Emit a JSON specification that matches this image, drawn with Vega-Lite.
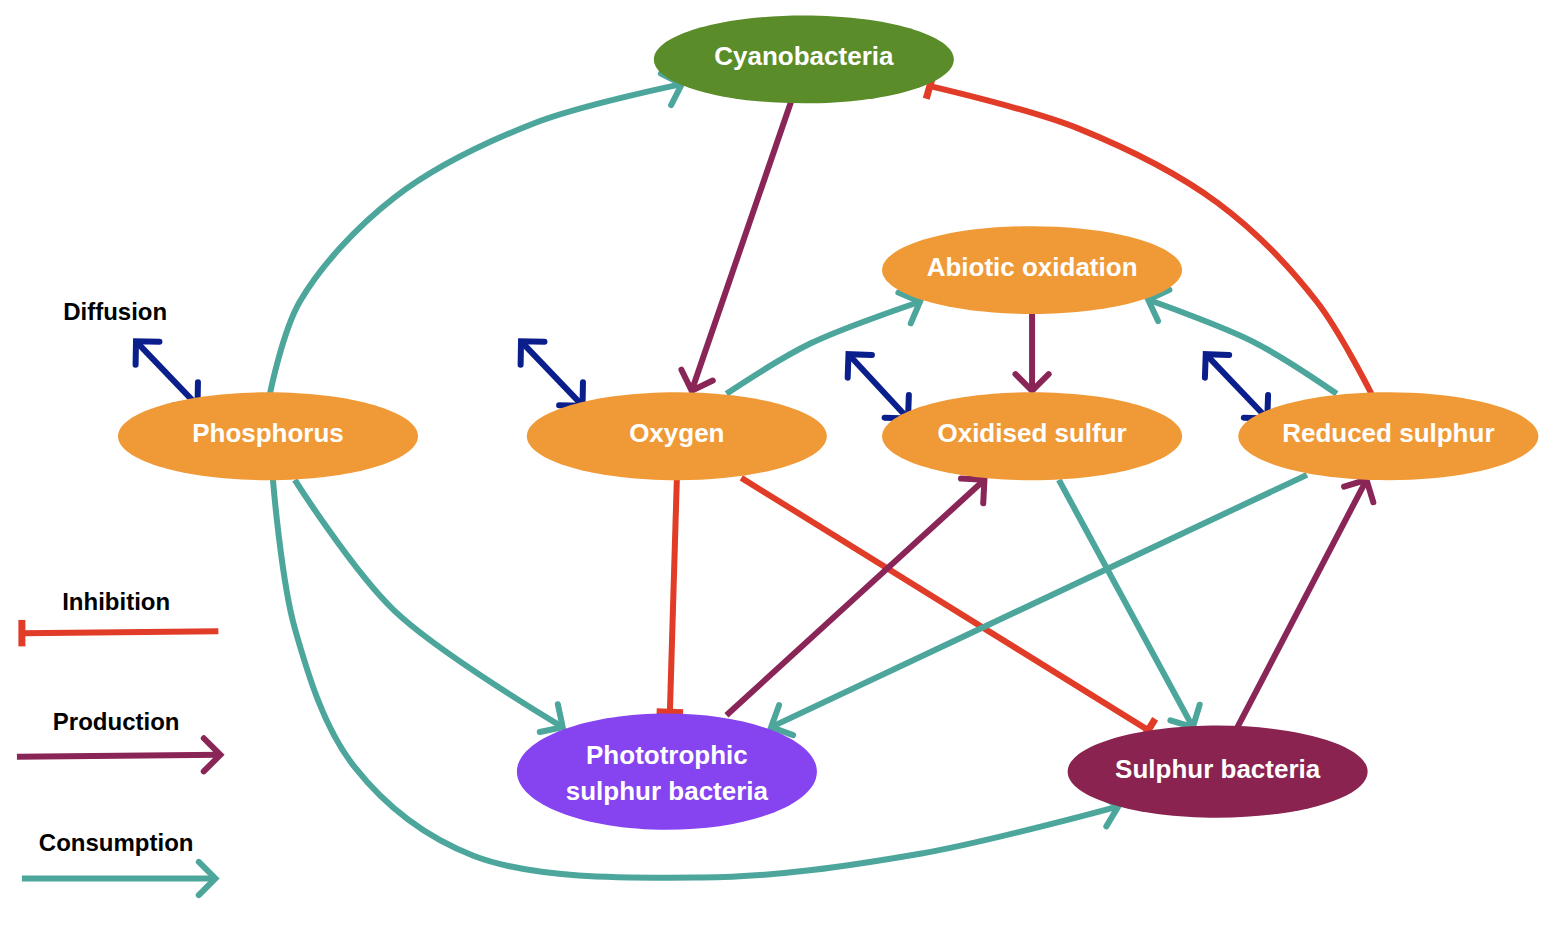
{
"$schema":"https://vega.github.io/schema/vega-lite/v6.json",
"width":1564,"height":928,"autosize":{"type":"fit","contains":"padding"},
"config":{"view":{"stroke":null},"font":"Liberation Sans"},
"datasets":{
"nodes":[
{"label":"Cyanobacteria","x":803,"y":55,"g":"a","color":"#5b8c2a"},
{"label":"Abiotic oxidation","x":1033,"y":268,"g":"a","color":"#f09a37"},
{"label":"Phosphorus","x":263,"y":436,"g":"a","color":"#f09a37"},
{"label":"Oxygen","x":675,"y":436,"g":"a","color":"#f09a37"},
{"label":"Oxidised sulfur","x":1033,"y":436,"g":"a","color":"#f09a37"},
{"label":"Reduced sulphur","x":1392,"y":436,"g":"a","color":"#f09a37"},
{"label":"Phototrophic\nsulphur bacteria","x":665,"y":775,"g":"b","color":"#8644f0"},
{"label":"Sulphur bacteria","x":1220,"y":775,"g":"c","color":"#8a2350"}],
"edges":[
{"e":1,"k":"Consumption","o":1,"x":265,"y":393},{"e":1,"k":"Consumption","o":2,"x":295,"y":300},{"e":1,"k":"Consumption","o":3,"x":390,"y":195},{"e":1,"k":"Consumption","o":4,"x":530,"y":120},{"e":1,"k":"Consumption","o":5,"x":680,"y":80},
{"e":2,"k":"Production","o":1,"x":790,"y":98},{"e":2,"k":"Production","o":2,"x":690,"y":390},
{"e":3,"k":"Inhibition","o":1,"x":1375,"y":393},{"e":3,"k":"Inhibition","o":2,"x":1320,"y":300},{"e":3,"k":"Inhibition","o":3,"x":1220,"y":200},{"e":3,"k":"Inhibition","o":4,"x":1080,"y":125},{"e":3,"k":"Inhibition","o":5,"x":930,"y":82},
{"e":4,"k":"Consumption","o":1,"x":725,"y":393},{"e":4,"k":"Consumption","o":2,"x":810,"y":342},{"e":4,"k":"Consumption","o":3,"x":920,"y":300},
{"e":5,"k":"Consumption","o":1,"x":1340,"y":393},{"e":5,"k":"Consumption","o":2,"x":1255,"y":340},{"e":5,"k":"Consumption","o":3,"x":1150,"y":298},
{"e":6,"k":"Production","o":1,"x":1033,"y":312},{"e":6,"k":"Production","o":2,"x":1033,"y":390},
{"e":7,"k":"Consumption","o":1,"x":290,"y":480},{"e":7,"k":"Consumption","o":2,"x":390,"y":612},{"e":7,"k":"Consumption","o":3,"x":560,"y":730},
{"e":8,"k":"Consumption","o":1,"x":268,"y":480},{"e":8,"k":"Consumption","o":2,"x":290,"y":630},{"e":8,"k":"Consumption","o":3,"x":350,"y":770},{"e":8,"k":"Consumption","o":4,"x":470,"y":860},{"e":8,"k":"Consumption","o":5,"x":700,"y":882},{"e":8,"k":"Consumption","o":6,"x":920,"y":858},{"e":8,"k":"Consumption","o":7,"x":1120,"y":810},
{"e":9,"k":"Inhibition","o":1,"x":675,"y":480},{"e":9,"k":"Inhibition","o":2,"x":668,"y":715},
{"e":10,"k":"Inhibition","o":1,"x":740,"y":478},{"e":10,"k":"Inhibition","o":2,"x":1150,"y":733},
{"e":11,"k":"Production","o":1,"x":725,"y":718},{"e":11,"k":"Production","o":2,"x":985,"y":480},
{"e":12,"k":"Consumption","o":1,"x":1310,"y":475},{"e":12,"k":"Consumption","o":2,"x":770,"y":730},
{"e":13,"k":"Consumption","o":1,"x":1060,"y":480},{"e":13,"k":"Consumption","o":2,"x":1195,"y":730},
{"e":14,"k":"Production","o":1,"x":1240,"y":730},{"e":14,"k":"Production","o":2,"x":1370,"y":480},
{"e":15,"k":"Diffusion","o":1,"x":130,"y":340},{"e":15,"k":"Diffusion","o":2,"x":192,"y":405},
{"e":16,"k":"Diffusion","o":1,"x":518,"y":340},{"e":16,"k":"Diffusion","o":2,"x":580,"y":405},
{"e":17,"k":"Diffusion","o":1,"x":848,"y":353},{"e":17,"k":"Diffusion","o":2,"x":908,"y":418},
{"e":18,"k":"Diffusion","o":1,"x":1208,"y":353},{"e":18,"k":"Diffusion","o":2,"x":1270,"y":418},
{"e":19,"k":"Inhibition","o":1,"x":213,"y":633},{"e":19,"k":"Inhibition","o":2,"x":15,"y":635},
{"e":20,"k":"Production","o":1,"x":10,"y":760},{"e":20,"k":"Production","o":2,"x":215,"y":758},
{"e":21,"k":"Consumption","o":1,"x":15,"y":883},{"e":21,"k":"Consumption","o":2,"x":210,"y":883}],
"heads":[
{"k":"Consumption","x":680,"y":80,"a":-18},{"k":"Production","x":690,"y":390,"a":109},
{"k":"Inhibition","x":930,"y":82,"a":196},{"k":"Consumption","x":920,"y":300,"a":-22},
{"k":"Consumption","x":1150,"y":298,"a":200},{"k":"Production","x":1033,"y":390,"a":90},
{"k":"Consumption","x":560,"y":730,"a":33},{"k":"Consumption","x":1120,"y":810,"a":-14},
{"k":"Inhibition","x":668,"y":715,"a":92},{"k":"Inhibition","x":1150,"y":733,"a":32},
{"k":"Production","x":985,"y":480,"a":-42},{"k":"Consumption","x":770,"y":730,"a":155},
{"k":"Consumption","x":1195,"y":730,"a":62},{"k":"Production","x":1370,"y":480,"a":-62},
{"k":"Diffusion","x":192,"y":405,"a":46},{"k":"Diffusion","x":130,"y":340,"a":226},
{"k":"Diffusion","x":580,"y":405,"a":46},{"k":"Diffusion","x":518,"y":340,"a":226},
{"k":"Diffusion","x":908,"y":418,"a":47},{"k":"Diffusion","x":848,"y":353,"a":227},
{"k":"Diffusion","x":1270,"y":418,"a":47},{"k":"Diffusion","x":1208,"y":353,"a":227},
{"k":"Inhibition","x":15,"y":635,"a":180},{"k":"Production","x":215,"y":758,"a":0},
{"k":"Consumption","x":210,"y":883,"a":0}],
"legend":[
{"t":"Diffusion","x":112,"y":311},{"t":"Inhibition","x":113,"y":605},
{"t":"Production","x":113,"y":726},{"t":"Consumption","x":113,"y":848}]
},
"encoding":{
"x":{"field":"x","type":"quantitative","scale":{"domain":[0,1564],"nice":false,"zero":false},"axis":null},
"y":{"field":"y","type":"quantitative","scale":{"domain":[0,928],"reverse":true,"nice":false,"zero":false},"axis":null}
},
"layer":[
{"data":{"name":"edges"},"mark":{"type":"line","strokeWidth":6,"interpolate":"catmull-rom","strokeCap":"butt"},
 "encoding":{"detail":{"field":"e"},"order":{"field":"o"},
 "color":{"field":"k","type":"nominal","legend":null,"scale":{"domain":["Consumption","Production","Inhibition","Diffusion"],"range":["#4ca69c","#8a2557","#e03c28","#0a1f8c"]}}}},
{"data":{"name":"heads"},"transform":[{"filter":"datum.k!='Inhibition'"}],
 "mark":{"type":"point","shape":"M-1,-1L0,0L-1,1","filled":false,"strokeWidth":6,"size":1100,"opacity":1,"strokeCap":"round"},
 "encoding":{"angle":{"field":"a","type":"quantitative","scale":null},
 "color":{"field":"k","type":"nominal","legend":null,"scale":{"domain":["Consumption","Production","Inhibition","Diffusion"],"range":["#4ca69c","#8a2557","#e03c28","#0a1f8c"]}}}},
{"data":{"name":"heads"},"transform":[{"filter":"datum.k=='Inhibition'"}],
 "mark":{"type":"point","shape":"M0,-1L0,1","filled":false,"strokeWidth":7,"size":700,"opacity":1,"color":"#e03c28"},
 "encoding":{"angle":{"field":"a","type":"quantitative","scale":null}}},
{"data":{"name":"nodes"},"transform":[{"filter":"datum.g=='a'"}],
 "mark":{"type":"point","shape":"M-1,0A1,0.293,0,1,1,1,0A1,0.293,0,1,1,-1,0Z","filled":true,"size":90000,"opacity":1},
 "encoding":{"color":{"field":"color","type":"nominal","scale":null}}},
{"data":{"name":"nodes"},"transform":[{"filter":"datum.g=='b'"}],
 "mark":{"type":"point","shape":"M-1,0A1,0.387,0,1,1,1,0A1,0.387,0,1,1,-1,0Z","filled":true,"size":90000,"opacity":1},
 "encoding":{"color":{"field":"color","type":"nominal","scale":null}}},
{"data":{"name":"nodes"},"transform":[{"filter":"datum.g=='c'"}],
 "mark":{"type":"point","shape":"M-1,0A1,0.307,0,1,1,1,0A1,0.307,0,1,1,-1,0Z","filled":true,"size":90000,"opacity":1},
 "encoding":{"color":{"field":"color","type":"nominal","scale":null}}},
{"data":{"name":"nodes"},"transform":[{"filter":"datum.g!='b'"}],"mark":{"type":"text","color":"white","fontSize":26,"fontWeight":"bold","dy":-2},
 "encoding":{"text":{"field":"label"}}},
{"data":{"name":"nodes"},"transform":[{"filter":"datum.g=='b'"}],"mark":{"type":"text","color":"white","fontSize":26,"fontWeight":"bold","lineBreak":"\n","lineHeight":36,"dy":-16},
 "encoding":{"text":{"field":"label"}}},
{"data":{"name":"legend"},"mark":{"type":"text","color":"black","fontSize":24,"fontWeight":"bold","dx":-3},
 "encoding":{"text":{"field":"t"}}}
]
}
